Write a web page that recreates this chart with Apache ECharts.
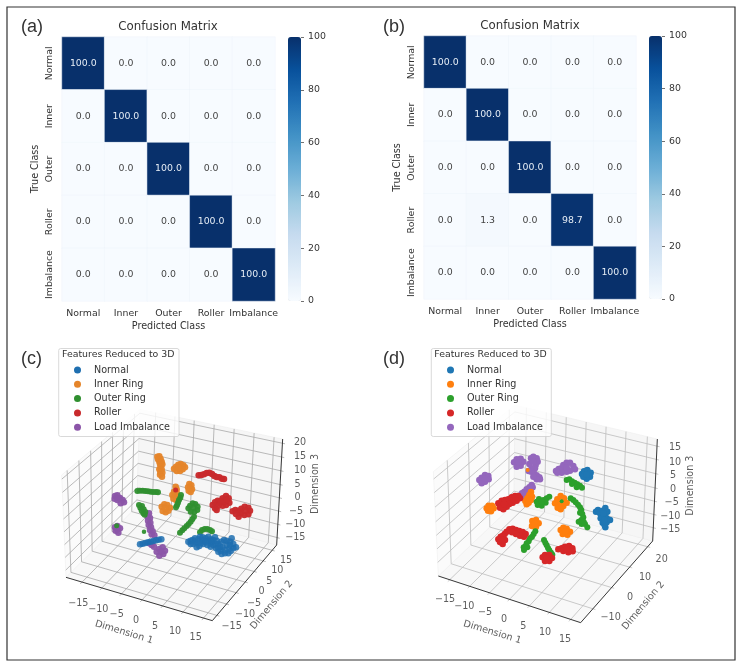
<!DOCTYPE html>
<html><head><meta charset="utf-8">
<style>html,body{margin:0;padding:0;background:#fff}#c{width:741px;height:670px}</style>
<script src="https://cdn.jsdelivr.net/npm/echarts@6/dist/echarts.min.js"></script>
</head><body><div id="c"></div>
<script>
const classLabels = ['Normal','Inner','Outer','Roller','Imbalance'];
const matrixA = [[100,0,0,0,0],[0,100,0,0,0],[0,0,100,0,0],[0,0,0,100,0],[0,0,0,0,100]];
const matrixB = [[100,0,0,0,0],[0,100,0,0,0],[0,0,100,0,0],[0,1.3,0,98.7,0],[0,0,0,0,100]];
const blues = ['#f7fbff','#deebf7','#c6dbef','#9ecae1','#6baed6','#4292c6','#2171b5','#08519c','#08306b'];
const legendNames = ['Normal','Inner Ring','Outer Ring','Roller','Load Imbalance'];
const colorsC = ['#1f6fb0','#e5852a','#2f8f2f','#c82a2c','#8b55a8'];
const colorsD = ['#1f77b4','#ff7f0e','#2ca02c','#d62728','#9467bd'];

// Cluster readings in the view plane of panel (c); an optional third value is a smaller marker
const normalC = [[420,613],[428,611],[436,609],[444,607],[452,605],[460,603],[468,601],[476,599],[484,598],
 [565,605],[572,612],[578,600],[585,595],[592,608],[600,590],[605,600],[598,618],[590,622],[610,612],[617,595],[625,590],[625,603],[632,610],[640,600],[640,615],[648,625],[655,635],[665,642],[655,612],[664,605],[672,600],[668,622],[675,640],[685,640],[692,633],[700,625],[708,622],[700,612],[690,605],[680,603],[695,595],
 [572,602],[585,605],[580,612],[595,598],[608,592],[612,603],[602,610],[618,606],[633,598],[647,612],[650,602],[660,620],[662,632],[675,630],[680,615],[688,625],[690,615],[655,625],[635,605],[645,592],[622,615],[632,620]];
const innerC = [[472,350],[478,349],[474,358],[482,357],[478,365],[485,365],[480,372],[487,373],[482,380],[478,388],[485,388],[481,396],[487,398],[480,404],[486,410],
 [522,386],[528,380],[535,374],[542,372],[550,376],[555,382],[548,388],[540,393],[530,393],[536,384],
 [568,432],[574,436],[564,442],[571,445],[576,448],[566,452],[572,456],
 [527,440],[530,448],[522,455],[530,458],[517,465],[526,468],[533,470],[520,476],[528,480],
 [485,500],[493,493],[502,495],[510,503],[505,512],[497,517],[488,513],[495,505]];
const outerC = [[412,453],[420,452],[428,452],[436,453],[444,454],[452,455],[460,456],[468,456],[474,457],
 [417,495],[421,503],[426,498],[425,512],[431,508],[430,520],[436,516],[434,524],
 [543,465],[541,473],[537,480],[534,488],[531,496],[528,502],
 [565,505],[570,497],[578,490],[586,492],[593,500],[592,510],[583,516],[572,515],[580,503],
 [582,530],[577,538],[572,545],[566,552],[560,558],[553,565],[547,571],[540,578],
 [600,577],[606,570],[614,567],[622,567],[630,570],[636,574],[350,557,5],[432,575,4.5]];
const rollerC = [[596,406],[604,405],[612,403],[620,399],[628,398],[636,402],[643,408],[650,411],[658,412],[666,416],[672,417],[527,450,5],
 [638,495],[645,487],[653,482],[660,490],[668,475],[678,468],[686,475],[688,488],[678,495],[668,497],[655,497],[645,505],[650,510],[672,485],[680,480],[662,482],
 [698,514],[706,510],[716,512],[724,506],[734,500],[745,503],[750,512],[745,523],[733,525],[722,520],[716,530],[708,522],[735,512]];
const imbalanceC = [[345,468],[352,466],[344,476],[352,480],[360,474],[368,480],[372,487],[362,490],[356,474],
 [345,562],[352,558],[360,565],[347,572],[355,578],[352,568],
 [447,520],[443,530],[450,534],[444,542],[451,548],[446,555],[453,562],[450,570],[458,574],[455,583],[463,586],
 [455,615],[448,610],[462,620],
 [470,635],[478,627],[488,622],[495,632],[490,642],[478,647],[483,635]];
// Cluster readings in the view plane of panel (d)
const normalD = [[636,402],[642,394],[652,390],[662,398],[660,410],[650,416],[640,410],[650,403],
 [678,515],[684,510],[690,520],[698,512],[706,504],[712,515],[706,525],[700,530],[692,535],[712,537],[720,540],[710,547],[698,548],[704,556],[706,562],[703,540],[700,520]];
const innerD = [[350,505],[356,497],[366,497],[371,505],[363,514],[354,512],[360,505],
 [483,456],[478,465],[486,470],[472,475],[483,480],[466,483],[476,488],[470,493],
 [555,490],[562,478],[572,468],[582,475],[590,488],[580,498],[572,508],[563,503],[572,488],
 [487,543],[498,540],[506,550],[498,560],[486,558],[494,551],
 [572,570],[580,563],[590,566],[600,575],[592,584],[578,582],[586,574],[473,390,4]];
const outerD = [[590,420],[598,418],[606,424],[614,428],[622,433],[630,437],[636,443],[620,442],[606,432],
 [500,485],[507,477],[512,490],[520,480],[530,475],[538,470],[527,488],[515,497],[503,495],[515,485],
 [602,475],[610,480],[617,487],[624,494],[630,502],[634,510],[630,518],[637,522],[640,532],[634,540],[626,545],[635,552],[645,552],[652,562],[641,545],
 [496,574],[491,582],[486,590],[480,595],[476,604],[470,610],[467,618],[461,622],[462,630],[472,622],
 [522,600],[526,608],[530,616],[534,624],[538,631],[543,638],[547,644],[575,484,4]];
const rollerD = [[385,490],[395,482],[405,480],[415,478],[425,472],[435,468],[445,468],[450,475],[440,482],[428,488],[418,492],[410,500],[400,508],[390,503],[402,493],
 [410,575],[404,582],[398,588],[392,590],[385,598],[390,606],[398,612],[405,600],[398,600],
 [418,568],[428,566],[438,570],[448,573],[458,576],[467,582],[462,590],[450,587],[438,582],[426,577],
 [565,628],[575,625],[585,620],[597,618],[607,625],[608,634],[595,637],[580,633],[590,628],
 [518,652],[525,645],[538,645],[546,654],[538,663],[525,663],[531,654]];
const imbalanceD = [[328,420],[335,413],[345,405],[355,408],[356,418],[345,425],[335,430],[345,416],
 [432,367],[440,358],[452,356],[460,365],[452,377],[440,380],[446,367],
 [483,355],[490,350],[500,355],[503,365],[497,375],[495,385],[485,385],[478,372],[490,365],
 [476,393],[484,395],[492,400],[500,406],[508,412],[510,418],[500,418],[490,410],
 [558,393],[566,387],[574,385],[580,375],[590,368],[600,368],[610,378],[615,388],[600,392],[590,395],[575,398],[562,398],[590,382],
 [485,435],[478,442],[470,448],[463,455],[456,460],[448,468],[455,472],[468,462],[480,452],[488,442]];

const boxC = {L:[198,712],F:[637,842],R:[830,615],B:[410,500],TL:[185,405],TB:[420,208],TR:[848,297]};
const boxD = {L:[205,708],F:[632,848],R:[848,603],B:[432,492],TL:[190,395],TB:[435,195],TR:[862,297]};
const ticksC = {x:[.11,.245,.38,.52,.66,.80,.94], y:[.07,.22,.37,.51,.65,.79,.93], z:[.07,.195,.32,.445,.57,.70,.83,.96]};
const ticksD = {x:[.08,.22,.36,.5,.64,.78,.93], y:[.17,.43,.68,.93], z:[.13,.26,.39,.52,.66,.80,.93]};
const tickTextC = [
 ['−15',235,790],['−10',295,807],['−5',350,823],['0',408,840],['5',465,858],['10',525,875],['15',587,893],
 ['−15',695,858],['−10',735,822],['−5',762,790],['0',785,755],['5',808,724],['10',832,690],['15',858,660],
 ['20',900,307],['15',900,349],['10',900,391],['5',893,432],['0',893,472],['−5',888,513],['−10',886,553],['−15',886,592]];
const tickTextD = [
 ['−15',225,778],['−10',283,800],['−5',345,817],['0',402,837],['5',460,858],['10',525,878],['15',585,898],
 ['−10',722,833],['0',780,772],['10',825,713],['20',875,657],
 ['15',915,323],['10',915,366],['5',909,407],['0',909,447],['−5',905,488],['−10',901,528],['−15',901,568]];
const axisTitlesC = [['Dimension 1',372,877,-17],['Dimension 2',815,795,50],['Dimension 3',945,432,90]];
const axisTitlesD = [['Dimension 1',367,877,-17],['Dimension 2',820,797,50],['Dimension 3',962,437,90]];

const FONT = 'DejaVu Sans', TXT = '#333';
const lerp = (a,b,f)=>[a[0]+(b[0]-a[0])*f, a[1]+(b[1]-a[1])*f];
function boxLines(b,t){
  const out=[];
  const ext=(a,c,n)=>{const dx=a[0]-c[0],dy=a[1]-c[1],d=Math.hypot(dx,dy);return [a[0]+dx/d*n,a[1]+dy/d*n];};
  t.x.forEach(f=>{const a=lerp(b.L,b.F,f),m=lerp(b.B,b.R,f),e=lerp(b.TB,b.TR,f);out.push([ext(a,m,8),m,e]);});
  t.y.forEach(f=>{const a=lerp(b.F,b.R,f),m=lerp(b.L,b.B,f),e=lerp(b.TL,b.TB,f);out.push([ext(a,m,8),m,e]);});
  t.z.forEach(f=>{const a=lerp(b.R,b.TR,f),m=lerp(b.B,b.TB,f),e=lerp(b.L,b.TL,f);out.push([ext(a,m,8),m,e]);});
  return out;
}
function polySeries(ax,polys,fills){
  return {type:'custom',silent:true,xAxisIndex:ax,yAxisIndex:ax,z:1,clip:false,
    data:polys.map((p,i)=>[i]),
    renderItem:(params,api)=>({type:'polygon',shape:{points:polys[params.dataIndex].map(q=>api.coord(q))},style:{fill:fills[params.dataIndex],stroke:'#ececec',lineWidth:.5}})};
}
function lineSeries(ax,lines,color,width,z){
  return {type:'custom',silent:true,xAxisIndex:ax,yAxisIndex:ax,z:z,clip:false,
    data:lines.map((p,i)=>[i]),
    renderItem:(params,api)=>({type:'polyline',shape:{points:lines[params.dataIndex].map(q=>api.coord(q))},style:{fill:null,stroke:color,lineWidth:width}})};
}
function textSeries(ax,items){
  return {type:'scatter',silent:true,xAxisIndex:ax,yAxisIndex:ax,z:3,symbolSize:0,clip:false,
    data:items.map(it=>({name:it[0],value:[it[1],it[2]],label:{rotate:it[3]||0}})),
    label:{show:true,position:'inside',formatter:'{b}',fontFamily:FONT,fontSize:9.6,color:TXT}};
}
function cloud(ax,name,data,color,size,op){
  return {type:'scatter',name,xAxisIndex:ax,yAxisIndex:ax,z:2,data,clip:false,
    symbolSize:v=>v[2]||size,
    itemStyle:{color,opacity:op}};
}
function panel3d(ax,b,t,tickText,titles,gridColor,gridWidth){
  return [
    polySeries(ax,[[b.L,b.F,b.R,b.B],[b.L,b.B,b.TB,b.TL],[b.B,b.R,b.TR,b.TB]],['#f8f8f8','#fbfbfb','#f6f6f6']),
    lineSeries(ax,boxLines(b,t),gridColor,gridWidth,1),
    lineSeries(ax,[[b.L,b.F,b.R,b.TR]],'#222',.9,1),
    textSeries(ax,tickText),
    textSeries(ax,titles)
  ];
}
function heatData(m){
  const r=[];
  m.forEach((row,y)=>row.forEach((v,x)=>r.push({value:[x,y,v],label:{color:v>50?'#e6edf5':'#444'}})));
  return r;
}
function catAxes(idx){
  return {
    x:{type:'category',gridIndex:idx,data:classLabels,name:'Predicted Class',nameLocation:'middle',nameGap:20,nameMoveOverlap:false,
       nameTextStyle:{fontFamily:FONT,fontSize:9.6,color:TXT},
       axisLine:{show:false},axisTick:{alignWithLabel:true,length:3,lineStyle:{color:'#333',width:.7}},splitLine:{show:false},splitArea:{show:false},
       axisLabel:{fontFamily:FONT,fontSize:9.4,color:TXT,margin:8,interval:0}},
    y:{type:'category',gridIndex:idx,data:classLabels,inverse:true,name:'True Class',nameLocation:'middle',nameGap:22,nameMoveOverlap:false,
       nameTextStyle:{fontFamily:FONT,fontSize:9.6,color:TXT},
       axisLine:{show:false},axisTick:{alignWithLabel:true,length:3,lineStyle:{color:'#333',width:.7}},splitLine:{show:false},splitArea:{show:false},
       axisLabel:{fontFamily:FONT,fontSize:9.4,color:TXT,rotate:90,margin:8,interval:0}}
  };
}
const gridRects=[
  {left:62,top:37,width:213,height:264},
  {left:424,top:36,width:212,height:263},
  {left:288,top:37,width:13,height:264},
  {left:649,top:36,width:13,height:263},
  {left:0,top:340,width:370,height:330},
  {left:370,top:340,width:371,height:330}
];
const axA=catAxes(0),axB=catAxes(1);
const cbAxisX=i=>({type:'value',gridIndex:i,show:false,min:0,max:1});
const cbAxisY=i=>({type:'value',gridIndex:i,position:'right',min:0,max:100,interval:20,
  axisLine:{show:false,onZero:false},axisTick:{show:true,length:3,lineStyle:{color:'#333',width:.7}},splitLine:{show:false},
  axisLabel:{fontFamily:FONT,fontSize:9.4,color:TXT,margin:7}});
const viewX=(i,w)=>({type:'value',gridIndex:i,show:false,min:0,max:w});
const viewY=i=>({type:'value',gridIndex:i,show:false,min:0,max:990,inverse:true});

function heatSeries(ax,m){
  return {type:'heatmap',xAxisIndex:ax,yAxisIndex:ax,data:heatData(m),silent:true,
    itemStyle:{borderColor:'#eef4fa',borderWidth:.5},
    label:{show:true,fontFamily:FONT,fontSize:9.4,formatter:p=>p.value[2].toFixed(1)}};
}
const series=[
  heatSeries(0,matrixA),heatSeries(1,matrixB),
  ...panel3d(4,boxC,ticksC,tickTextC,axisTitlesC,'#a8a8a8',.8),
  ...panel3d(5,boxD,ticksD,tickTextD,axisTitlesD,'#bcbcbc',.8),
  cloud(4,legendNames[4],imbalanceC,colorsC[4],6.5,.95),
  cloud(4,legendNames[1],innerC,colorsC[1],6.5,.95),
  cloud(4,legendNames[2],outerC,colorsC[2],6,.95),
  cloud(4,legendNames[3],rollerC,colorsC[3],6.5,.97),
  cloud(4,legendNames[0],normalC,colorsC[0],6.5,.85),
  cloud(5,legendNames[0],normalD,colorsD[0],6.5,1),
  cloud(5,legendNames[4],imbalanceD,colorsD[4],6.5,1),
  cloud(5,legendNames[1],innerD,colorsD[1],6.5,1),
  cloud(5,legendNames[2],outerD,colorsD[2],6,1),
  cloud(5,legendNames[3],rollerD,colorsD[3],6.5,1)
];
const mkLegend=(left,top,cols)=>({orient:'vertical',left,top,padding:0,itemGap:2.3,itemWidth:7,itemHeight:7,icon:'circle',z:6,
  selectedMode:false,
  data:legendNames.map((n,i)=>({name:n,itemStyle:{color:cols[i],opacity:1}})),
  textStyle:{fontFamily:FONT,fontSize:9.6,color:TXT,lineHeight:12,padding:[0,0,0,8]}});
const mkTitle=(text,left,top,align,font,size)=>({text,left,top,padding:0,textAlign:align,
  textStyle:{fontFamily:font,fontSize:size,fontWeight:'normal',color:TXT}});
const mkVM=(si,left,top,h)=>({type:'continuous',seriesIndex:si,min:0,max:100,left,top,padding:0,itemWidth:13,itemHeight:h,
  showLabel:false,calculable:false,hoverLink:false,realtime:false,text:null,inRange:{color:blues}});

const chart=echarts.init(document.getElementById('c'),null,{renderer:'canvas'});
chart.setOption({
  animation:false,backgroundColor:'#fff',
  grid:gridRects,
  xAxis:[axA.x,axB.x,cbAxisX(2),cbAxisX(3),viewX(4,1110),viewX(5,1113)],
  yAxis:[axA.y,axB.y,cbAxisY(2),cbAxisY(3),viewY(4),viewY(5)],
  visualMap:[mkVM(0,288,37,264),mkVM(1,649,36,263)],
  title:[
    mkTitle('Confusion Matrix',168,21,'center',FONT,11.8),
    mkTitle('Confusion Matrix',530,20,'center',FONT,11.8),
    mkTitle('(a)',21,18,'left','Liberation Sans',18),
    mkTitle('(b)',383,18,'left','Liberation Sans',18),
    mkTitle('(c)',21,350,'left','Liberation Sans',18),
    mkTitle('(d)',383,350,'left','Liberation Sans',18)
  ],
  legend:[mkLegend(74,364,colorsC),mkLegend(447,364,colorsD)],
  graphic:[
    {type:'rect',z:5,shape:{x:7,y:7,width:728,height:653},style:{fill:'transparent',stroke:'#333',lineWidth:1.2},silent:true},
    {type:'rect',z:5,shape:{x:58.7,y:348.5,width:120.3,height:88,r:2},style:{fill:'rgba(255,255,255,0.8)',stroke:'#cfcfcf',lineWidth:.8},silent:true},
    {type:'rect',z:5,shape:{x:431.3,y:348.5,width:120,height:88,r:2},style:{fill:'rgba(255,255,255,0.8)',stroke:'#cfcfcf',lineWidth:.8},silent:true},
    {type:'text',z:6,x:62,y:350,style:{text:'Features Reduced to 3D',font:'9.4px "DejaVu Sans"',fill:TXT},silent:true},
    {type:'text',z:6,x:434.3,y:350,style:{text:'Features Reduced to 3D',font:'9.4px "DejaVu Sans"',fill:TXT},silent:true}
  ],
  series
});
</script></body></html>
